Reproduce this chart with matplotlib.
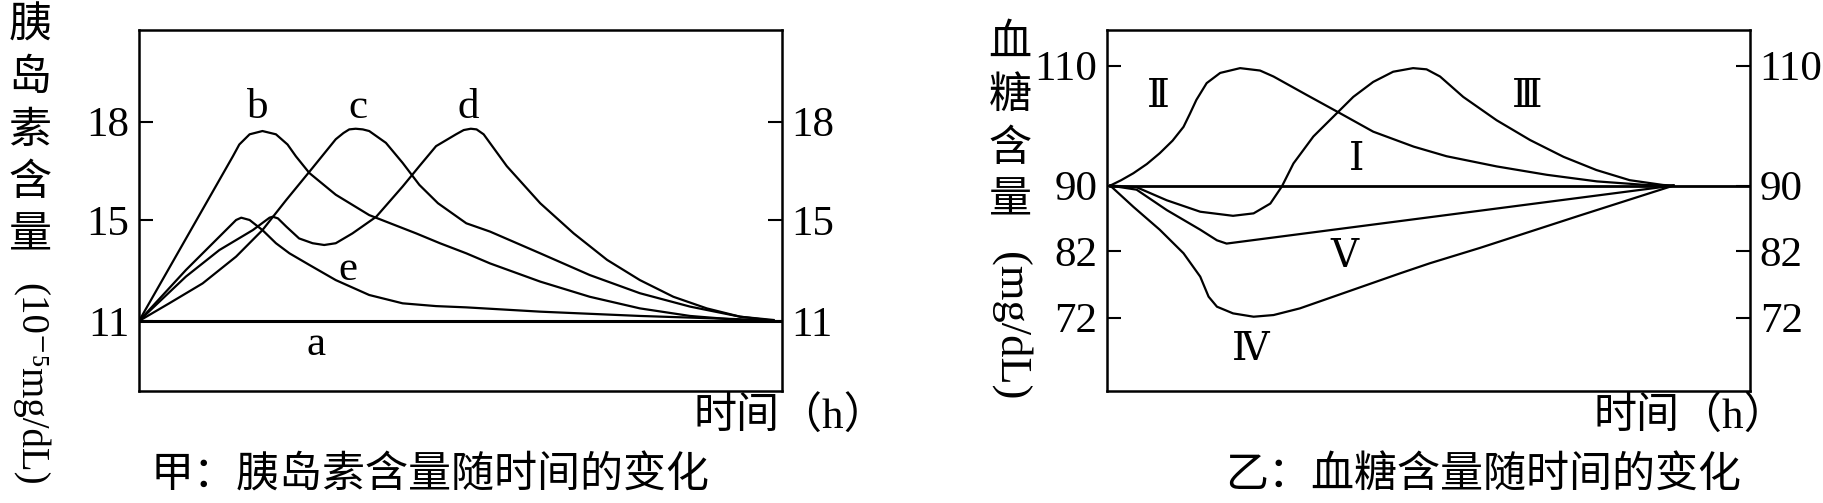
import numpy as np
import matplotlib
matplotlib.use('Agg')
import matplotlib.pyplot as plt

plt.rcParams['font.family'] = ['Liberation Serif', 'Noto Sans CJK SC', 'DejaVu Serif']
plt.rcParams['axes.linewidth'] = 1.8

# 甲: insulin content (10^-5 mg/dL) vs time (arbitrary 0..10 time axis)
ins_ticks = [11, 15, 18]
ins_a_x = [0, 10]
ins_a_y = [11, 11]
ins_b_x = [0, 1.46, 1.56, 1.72, 1.92, 2.13, 2.31, 2.44, 2.65, 3.06, 3.58, 4.31, 4.68, 5.09,
           5.46, 6.24, 7.01, 7.79, 8.57, 9.35, 9.87]
ins_b_y = [11, 16.94, 17.30, 17.61, 17.71, 17.61, 17.30, 16.94, 16.43, 15.77, 15.15, 14.47, 14.08,
           13.68, 13.28, 12.56, 11.96, 11.50, 11.20, 11.04, 11.0]
ins_c_x = [0, 0.47, 0.99, 1.51, 1.92, 2.29, 2.70, 3.06, 3.18, 3.27, 3.37, 3.48, 3.58, 3.84, 4.10,
           4.36, 4.65, 5.09, 5.46, 6.24, 7.01, 7.79, 8.57, 9.35, 9.87]
ins_c_y = [11, 11.70, 12.49, 13.55, 14.60, 15.61, 16.59, 17.46, 17.65, 17.76, 17.78, 17.76, 17.71,
           17.35, 16.74, 16.07, 15.51, 14.87, 14.54, 13.68, 12.82, 12.10, 11.57, 11.17, 11.04]
ins_d_x = [0, 0.73, 1.25, 1.77, 2.03, 2.08, 2.16, 2.29, 2.49, 2.70, 2.88, 3.06, 3.32, 3.69, 4.10,
           4.36, 4.62, 4.93, 5.05, 5.16, 5.25, 5.36, 5.72, 6.24, 6.76, 7.28, 7.79, 8.31, 8.83,
           9.35, 9.87]
ins_d_y = [11, 12.76, 13.81, 14.60, 15.07, 15.10, 15.05, 14.74, 14.27, 14.08, 14.01, 14.08, 14.47,
           15.10, 16.02, 16.64, 17.25, 17.61, 17.74, 17.78, 17.76, 17.61, 16.64, 15.51, 14.47,
           13.42, 12.62, 11.96, 11.50, 11.17, 11.01]
ins_e_x = [0, 0.73, 1.25, 1.51, 1.59, 1.72, 1.92, 2.13, 2.34, 2.65, 3.06, 3.58, 4.10, 4.62, 5.09,
           6.24, 7.79, 9.35, 9.87]
ins_e_y = [11, 13.02, 14.34, 15.0, 15.07, 15.0, 14.6, 14.08, 13.68, 13.22, 12.62, 12.03, 11.70,
           11.59, 11.54, 11.37, 11.2, 11.07, 11.0]

# 乙: blood glucose (mg/dL) vs time
glu_ticks = [72, 82, 90, 110]
glu_1_x = [0.05, 10]
glu_1_y = [90, 90]
glu_2_x = [0.05, 0.22, 0.41, 0.62, 0.82, 1.02, 1.19, 1.29, 1.39, 1.55, 1.76, 2.07, 2.38, 2.59,
           3.11, 3.62, 4.14, 4.77, 5.28, 6.06, 6.84, 7.62, 8.39, 8.81]
glu_2_y = [90, 90.9, 92.06, 93.6, 95.4, 97.5, 99.8, 102.0, 104.3, 107.1, 108.8, 109.6, 109.2,
           108.2, 105.1, 102.1, 99.0, 96.5, 94.9, 93.2, 91.8, 90.7, 90.1, 90]
glu_3_x = [0.05, 0.46, 0.93, 1.45, 1.96, 2.28, 2.54, 2.72, 2.90, 3.21, 3.52, 3.83, 4.14, 4.45,
           4.76, 4.97, 5.18, 5.54, 6.06, 6.58, 7.10, 7.61, 8.13, 8.65, 8.81]
glu_3_y = [90, 89.8, 88.2, 86.8, 86.3, 86.6, 87.8, 89.9, 93.7, 98.2, 101.5, 104.8, 107.3, 109.0,
           109.6, 109.4, 108.2, 104.8, 100.9, 97.6, 94.8, 92.6, 90.9, 90.1, 90]
glu_4_x = [0.05, 0.41, 0.82, 1.19, 1.45, 1.58, 1.71, 1.96, 2.28, 2.59, 3.0, 3.52, 4.04, 4.56,
           5.02, 5.80, 7.35, 8.81]
glu_4_y = [90, 87.4, 84.6, 81.65, 78.15, 75.15, 73.65, 72.65, 72.15, 72.4, 73.4, 75.15, 76.9,
           78.65, 80.15, 82.37, 86.33, 90]
glu_5_x = [0.05, 0.46, 0.93, 1.45, 1.71, 1.86, 8.81]
glu_5_y = [90, 89.5, 87.0, 84.6, 83.3, 82.9, 90]


def make_scale(vals, pos):
    # schematic axis: tick values are not evenly spaced in the drawing
    vals = np.array(vals, dtype=float)
    pos = np.array(pos, dtype=float)
    def fwd(y):
        return np.interp(y, vals, pos)
    def inv(p):
        return np.interp(p, pos, vals)
    return fwd, inv


def style_axes(ax, ticks):
    ax.set_xlim(0, 10)
    ax.set_xticks([])
    ax.set_yticks(ticks)
    ax.set_yticklabels([str(t) for t in ticks])
    ax.minorticks_off()
    ax.tick_params(axis='y', direction='in', left=True, right=True,
                   labelleft=True, labelright=True, length=10, width=1.5,
                   labelsize=31, pad=7)


fig = plt.figure(figsize=(18.24, 5.03), dpi=100)
ax1 = fig.add_axes([139 / 1824, 1 - 391 / 503, 643 / 1824, 361 / 503])
ax2 = fig.add_axes([1107 / 1824, 1 - 391 / 503, 643 / 1824, 361 / 503])

ax1.set_yscale('function', functions=make_scale([8.23, 11, 15, 18, 20.79],
                                                 [0, 0.1939, 0.4737, 0.7465, 1]))
ax1.set_ylim(8.23, 20.79)
ax2.set_yscale('function', functions=make_scale([61, 72, 82, 90, 110, 116],
                                                 [0, 0.203, 0.388, 0.569, 0.901, 1]))
ax2.set_ylim(61, 116)

lw = 1.6
ax1.plot(ins_a_x, ins_a_y, color='black', lw=2.2)
for xs, ys in [(ins_b_x, ins_b_y), (ins_c_x, ins_c_y), (ins_d_x, ins_d_y), (ins_e_x, ins_e_y)]:
    ax1.plot(xs, ys, color='black', lw=lw, solid_joinstyle='round')

ax2.plot(glu_1_x, glu_1_y, color='black', lw=2.0)
for xs, ys in [(glu_2_x, glu_2_y), (glu_3_x, glu_3_y), (glu_4_x, glu_4_y), (glu_5_x, glu_5_y)]:
    ax2.plot(xs, ys, color='black', lw=lw, solid_joinstyle='round')

style_axes(ax1, ins_ticks)
style_axes(ax2, glu_ticks)

# curve labels
for s, u, h in [('b', 0.185, 0.784), ('c', 0.341, 0.784), ('d', 0.512, 0.784),
                ('e', 0.325, 0.335), ('a', 0.275, 0.127)]:
    ax1.text(u, h, s, transform=ax1.transAxes, fontsize=31, ha='center', va='center')
for s, u, h in [('Ⅱ', 0.080, 0.815), ('Ⅲ', 0.653, 0.817), ('Ⅰ', 0.388, 0.640),
                ('Ⅴ', 0.370, 0.372), ('Ⅳ', 0.224, 0.116)]:
    ax2.text(u, h, s, transform=ax2.transAxes, fontsize=28, ha='center', va='center',
             family=['DejaVu Serif', 'Noto Sans CJK SC'])

# vertical y-axis titles
cjk = 31
for i, ch in enumerate('胰岛素含量'):
    fig.text(30 / 1824, 1 - (27 + 52.5 * i) / 503, ch, fontsize=cjk, ha='center', va='center')
fig.text(30 / 1824, 1 - 384 / 503, '(10⁻⁵mg/dL)', fontsize=28, rotation=-90,
         ha='center', va='center')
for i, ch in enumerate('血糖含量'):
    fig.text(1010 / 1824, 1 - (45 + 52.5 * i) / 503, ch, fontsize=cjk, ha='center', va='center')
fig.text(1010 / 1824, 1 - 326 / 503, '(mg/dL)', fontsize=32, rotation=-90,
         ha='center', va='center')

fig.text(694 / 1824, 1 - 417 / 503, '时间（h）', fontsize=cjk, ha='left', va='center')
fig.text(1594 / 1824, 1 - 417 / 503, '时间（h）', fontsize=cjk, ha='left', va='center')
fig.text(151 / 1824, 1 - 477 / 503, '甲：胰岛素含量随时间的变化', fontsize=cjk, ha='left', va='center')
fig.text(1225 / 1824, 1 - 477 / 503, '乙：血糖含量随时间的变化', fontsize=cjk, ha='left', va='center')

fig.savefig('out.png', dpi=100)
